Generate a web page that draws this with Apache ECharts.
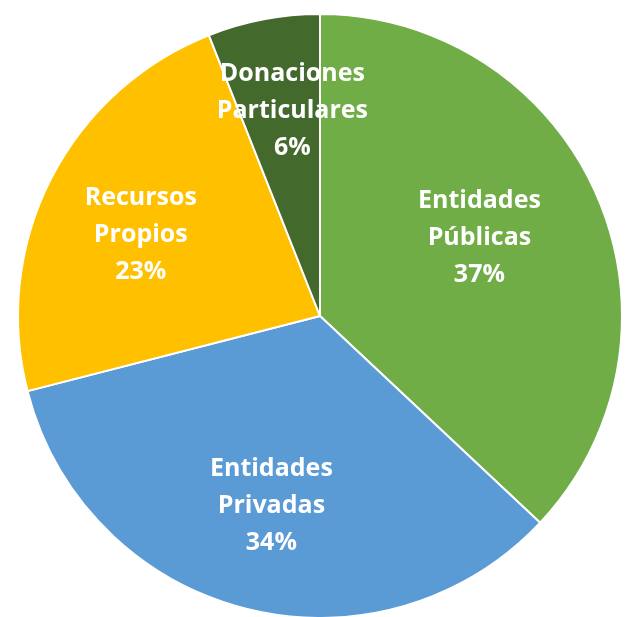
<!DOCTYPE html>
<html>
<head>
<meta charset="utf-8">
<script src="https://cdn.jsdelivr.net/npm/echarts@6/dist/echarts.min.js"></script>
<style>html,body{margin:0;padding:0;background:#fff}#c{width:629px;height:617px}</style>
</head>
<body>
<div id="c"></div>
<script>
const categories = ['Entidades\nPúblicas', 'Entidades\nPrivadas', 'Recursos\nPropios', 'Donaciones\nParticulares'];
const values = [37, 34, 23, 6];
const colors = ['#70AD47', '#5B9BD5', '#FFC000', '#44692C'];
const labelOffsets = [[-20, 0], [0, 1], [-5, 8], [9, -13]];

const chart = echarts.init(document.getElementById('c'));
const data = categories.map((n, i) => ({ name: n, value: values[i], itemStyle: { color: colors[i] } }));
const center = [320, 316];
chart.setOption({
  animation: false,
  series: [
    {
      type: 'pie',
      center: center,
      radius: [0, 302],
      startAngle: 90,
      clockwise: true,
      data: data,
      label: { show: false },
      labelLine: { show: false },
      itemStyle: { borderColor: '#fff', borderWidth: 2 },
      silent: true
    },
    {
      type: 'pie',
      center: center,
      radius: [0, 385],
      startAngle: 90,
      clockwise: true,
      data: categories.map((n, i) => ({ name: n, value: values[i], label: { offset: labelOffsets[i] } })),
      itemStyle: { color: 'rgba(0,0,0,0)' },
      label: {
        show: true,
        position: 'inside',
        formatter: p => p.name + '\n' + p.value + '%',
        color: '#fff',
        fontFamily: 'Open Sans',
        fontWeight: 'bold',
        fontSize: 25,
        lineHeight: 37,
        textBorderWidth: 0
      },
      labelLine: { show: false },
      silent: true
    }
  ]
});
</script>
</body>
</html>
